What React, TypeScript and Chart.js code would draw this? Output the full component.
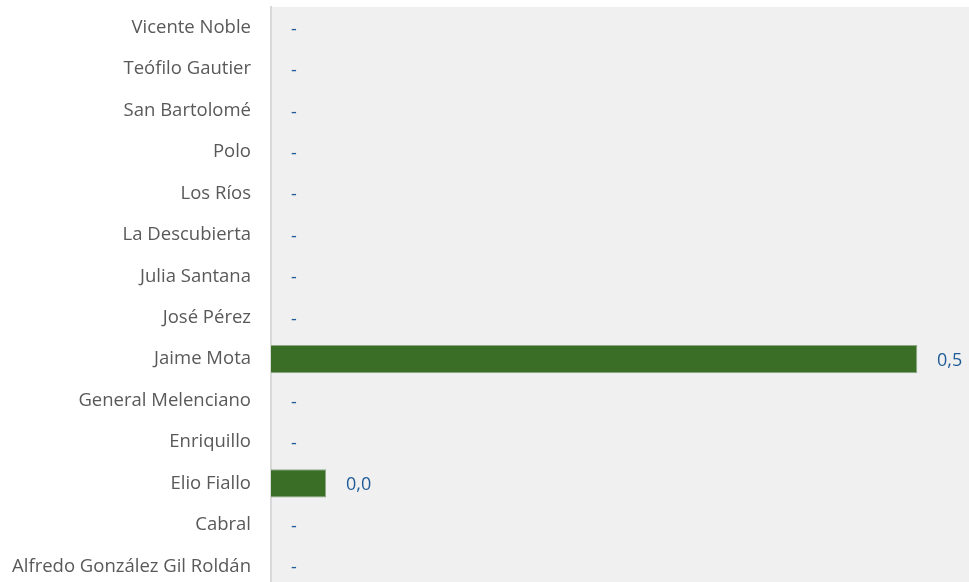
import React, { useEffect, useRef } from "react";
import { Chart, registerables } from "chart.js";

Chart.register(...registerables);

const categories = [
  "Vicente Noble",
  "Teófilo Gautier",
  "San Bartolomé",
  "Polo",
  "Los Ríos",
  "La Descubierta",
  "Julia Santana",
  "José Pérez",
  "Jaime Mota",
  "General Melenciano",
  "Enriquillo",
  "Elio Fiallo",
  "Cabral",
  "Alfredo González Gil Roldán",
];

const values = [0, 0, 0, 0, 0, 0, 0, 0, 0.5, 0, 0, 0.0426, 0, 0];

const axisMax = 0.54;

const fmt = (v: number) => (v === 0 ? "-" : v.toFixed(1).replace(".", ","));

const bgPlugin = {
  id: "plotBg",
  beforeDraw(chart: any) {
    const { ctx, chartArea } = chart;
    ctx.save();
    ctx.fillStyle = "#f0f0f0";
    ctx.fillRect(chartArea.left, chartArea.top, chartArea.right - chartArea.left, chartArea.bottom - chartArea.top);
    ctx.restore();
  },
};

const labelPlugin = {
  id: "valueLabels",
  afterDatasetsDraw(chart: any) {
    const { ctx } = chart;
    const meta = chart.getDatasetMeta(0);
    ctx.save();
    ctx.fillStyle = "#1f5c99";
    ctx.font = "18px 'Open Sans', sans-serif";
    ctx.textBaseline = "alphabetic";
    ctx.textAlign = "left";
    meta.data.forEach((bar: any, i: number) => {
      const v = values[i];
      ctx.fillText(fmt(v), Math.round(bar.x + 20), Math.round(bar.y) + 7);
    });
    ctx.restore();
  },
};

export default function App() {
  const ref = useRef<HTMLCanvasElement | null>(null);
  useEffect(() => {
    if (!ref.current) return;
    const chart = new Chart(ref.current, {
      type: "bar",
      data: {
        labels: categories,
        datasets: [
          {
            data: values,
            backgroundColor: "#3a6e27",
            borderColor: "#8fa888",
            borderWidth: 1,
            categoryPercentage: 0.68,
            barPercentage: 1,
          },
        ],
      },
      options: {
        indexAxis: "y",
        animation: false,
        responsive: true,
        maintainAspectRatio: false,
        layout: { padding: { top: 7, right: 0, bottom: 0, left: 0 } },
        plugins: { legend: { display: false }, tooltip: { enabled: false } },
        scales: {
          x: {
            min: 0,
            max: axisMax,
            display: false,
          },
          y: {
            grid: { display: false, drawTicks: false },
            border: { display: true, color: "#d9d9d9", width: 2 },
            ticks: {
              color: "#595959",
              font: { family: "'Open Sans', sans-serif", size: 18.5 },
              padding: 20,
              autoSkip: false,
            },
            afterFit(scale: any) {
              scale.width = 271;
              scale.paddingTop = 0;
              scale.paddingBottom = 0;
            },
          },
        },
      },
      plugins: [bgPlugin, labelPlugin],
    });
    return () => chart.destroy();
  }, []);
  return (
    <div style={{ position: "fixed", left: 0, top: 0, width: 969, height: 582, overflow: "hidden", background: "#fff" }}>
      <div style={{ position: "relative", width: 969, height: 587 }}>
        <canvas ref={ref} />
      </div>
    </div>
  );
}
